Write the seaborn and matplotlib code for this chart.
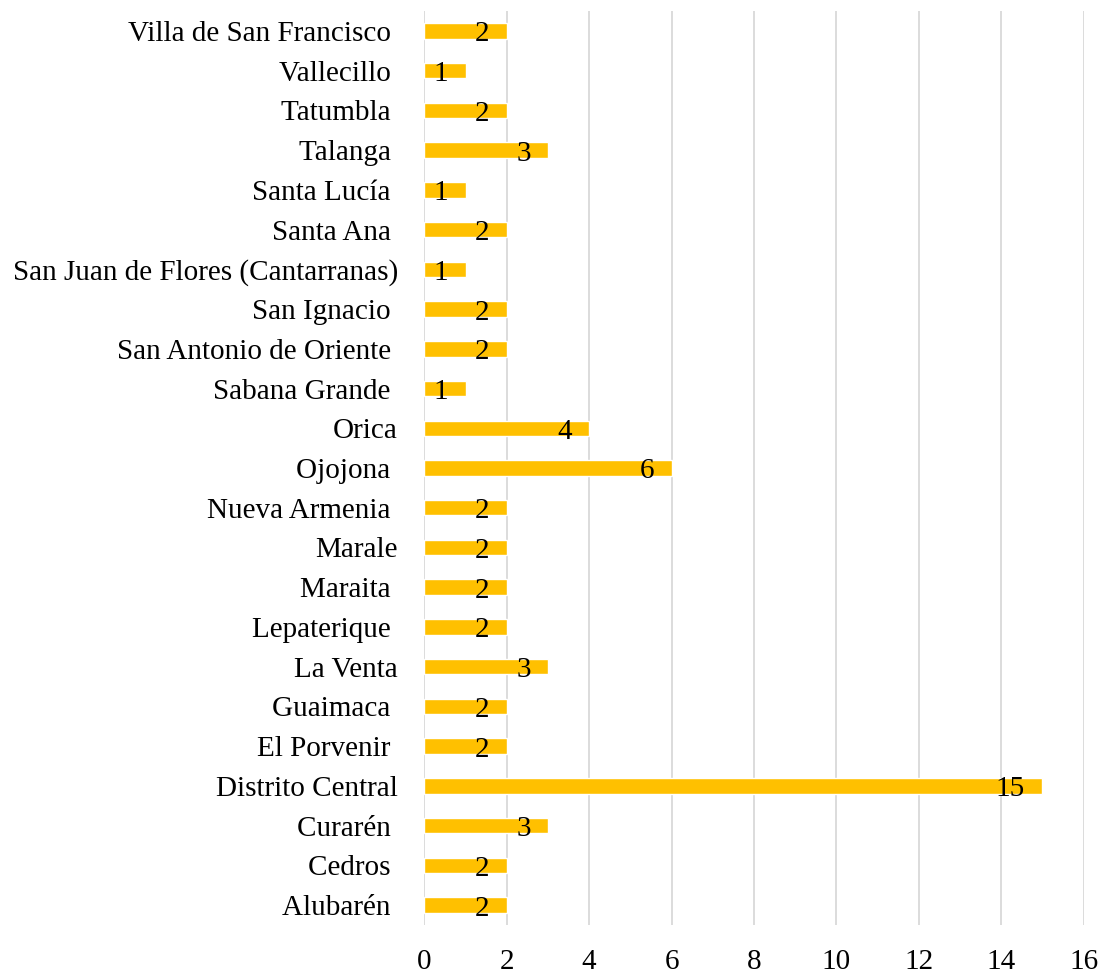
import matplotlib
matplotlib.use("Agg")
import matplotlib.pyplot as plt
import seaborn as sns
import pandas as pd

# Municipios (top to bottom as shown) and counts
municipios = [
    "Villa de San Francisco ", "Vallecillo ", "Tatumbla ", "Talanga ",
    "Santa Lucía ", "Santa Ana ", "San Juan de Flores (Cantarranas)",
    "San Ignacio ", "San Antonio de Oriente ", "Sabana Grande ", "Orica",
    "Ojojona ", "Nueva Armenia ", "Marale", "Maraita ", "Lepaterique ",
    "La Venta", "Guaimaca ", "El Porvenir ", "Distrito Central", "Curarén ",
    "Cedros ", "Alubarén ",
]
cantidad = [2, 1, 2, 3, 1, 2, 1, 2, 2, 1, 4, 6, 2, 2, 2, 2, 3, 2, 2, 15, 3, 2, 2]
x_ticks = [0, 2, 4, 6, 8, 10, 12, 14, 16]

df = pd.DataFrame({"municipio": municipios, "cantidad": cantidad})

sns.set_style("white")
plt.rcParams["font.family"] = ["Liberation Serif", "DejaVu Serif"]

fig = plt.figure(figsize=(11.03, 9.74), dpi=100)
ax = fig.add_axes([0.3847, 0.0503, 0.5978, 0.9384])

sns.barplot(data=df, x="cantidad", y="municipio", orient="h",
            color="#FFC000", saturation=1, width=0.39, ax=ax)

for i, v in enumerate(cantidad):
    ax.annotate(str(v), xy=(v, i), xytext=(-12.5, -2.5),
                textcoords="offset points", ha="right", va="center",
                fontsize=21, color="black")

ax.set_xlim(0, 16)
ax.set_ylim(len(municipios) - 0.5, -0.5)
ax.set_xticks(x_ticks)
ax.set_xticklabels([str(t) for t in x_ticks])
ax.xaxis.grid(True, color="#D9D9D9", linewidth=1.3)
ax.yaxis.grid(False)
ax.set_axisbelow(True)
for s in ax.spines.values():
    s.set_visible(False)
ax.tick_params(axis="x", length=0, pad=17, labelsize=21, labelcolor="black")
ax.tick_params(axis="y", length=0, pad=19, labelsize=21, labelcolor="black")
ax.set_xlabel("")
ax.set_ylabel("")

fig.savefig("out.png", dpi=100)
